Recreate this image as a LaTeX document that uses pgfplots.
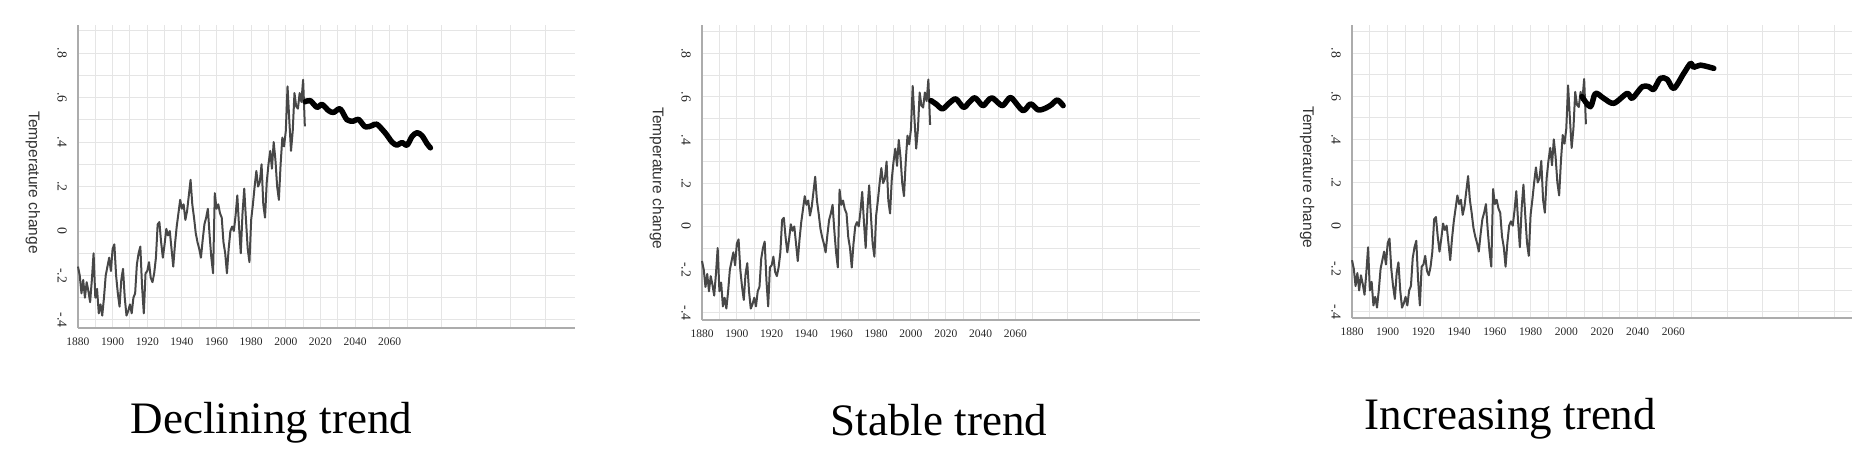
\documentclass[border=0pt]{standalone}
\usepackage{pgfplots}
\pgfplotsset{compat=1.18}
\usepackage{pgfplotstable}
\usepackage{fontspec}
\setmainfont{Liberation Serif}
\newfontfamily\labelsans{Liberation Sans}

% observed record, same in all three panels
\pgfplotstableread{
year temp
1880 -0.16
1881 -0.20
1882 -0.28
1883 -0.22
1884 -0.30
1885 -0.23
1886 -0.27
1887 -0.32
1888 -0.22
1889 -0.10
1890 -0.30
1891 -0.26
1892 -0.37
1893 -0.33
1894 -0.38
1895 -0.30
1896 -0.20
1897 -0.16
1898 -0.12
1899 -0.18
1900 -0.08
1901 -0.06
1902 -0.20
1903 -0.28
1904 -0.34
1905 -0.22
1906 -0.17
1907 -0.30
1908 -0.38
1909 -0.36
1910 -0.33
1911 -0.37
1912 -0.30
1913 -0.28
1914 -0.15
1915 -0.10
1916 -0.07
1917 -0.25
1918 -0.37
1919 -0.19
1920 -0.18
1921 -0.14
1922 -0.21
1923 -0.23
1924 -0.19
1925 -0.12
1926 0.03
1927 0.04
1928 -0.05
1929 -0.12
1930 -0.06
1931 0.01
1932 -0.02
1933 0.00
1934 -0.08
1935 -0.16
1936 -0.06
1937 0.02
1938 0.08
1939 0.14
1940 0.10
1941 0.12
1942 0.05
1943 0.09
1944 0.16
1945 0.23
1946 0.12
1947 0.06
1948 -0.01
1949 -0.05
1950 -0.08
1951 -0.12
1952 -0.04
1953 0.03
1954 0.06
1955 0.10
1956 -0.02
1957 -0.12
1958 -0.19
1959 0.17
1960 0.10
1961 0.12
1962 0.08
1963 0.06
1964 -0.05
1965 -0.10
1966 -0.19
1967 -0.08
1968 0.00
1969 0.02
1970 0.00
1971 0.07
1972 0.16
1973 0.02
1974 -0.10
1975 0.08
1976 0.19
1977 0.05
1978 -0.08
1979 -0.14
1980 0.05
1981 0.12
1982 0.20
1983 0.27
1984 0.20
1985 0.22
1986 0.30
1987 0.12
1988 0.06
1989 0.22
1990 0.30
1991 0.36
1992 0.28
1993 0.40
1994 0.32
1995 0.20
1996 0.14
1997 0.30
1998 0.42
1999 0.38
2000 0.45
2001 0.65
2002 0.50
2003 0.36
2004 0.45
2005 0.62
2006 0.56
2007 0.55
2008 0.62
2009 0.58
2010 0.68
2011 0.47
}\histdata

\pgfplotstableread{
year temp
2011.2 0.581
2014.1 0.586
2018.0 0.556
2020.9 0.569
2024.7 0.541
2027.6 0.533
2031.4 0.549
2035.3 0.500
2039.1 0.494
2042.0 0.502
2045.9 0.468
2049.8 0.474
2052.6 0.480
2057.5 0.440
2061.3 0.400
2064.2 0.386
2067.1 0.398
2070.0 0.386
2072.9 0.425
2075.8 0.442
2078.7 0.428
2081.6 0.392
2083.5 0.374
}\declining

\pgfplotstableread{
year temp
2011.6 0.582
2014.5 0.566
2018.1 0.544
2021.9 0.570
2025.8 0.590
2030.2 0.551
2033.5 0.575
2036.8 0.595
2041.2 0.559
2044.0 0.580
2046.7 0.595
2052.2 0.559
2055.0 0.580
2057.7 0.595
2064.3 0.536
2068.7 0.567
2073.1 0.539
2077.5 0.548
2080.8 0.564
2084.1 0.585
2087.4 0.559
}\stable

\pgfplotstableread{
year temp
2008.8 0.598
2013.5 0.551
2016.3 0.613
2021.0 0.590
2026.6 0.567
2034.1 0.613
2036.9 0.590
2042.5 0.644
2046.2 0.644
2049.0 0.632
2052.7 0.683
2056.5 0.678
2060.2 0.636
2065.8 0.706
2069.6 0.752
2071.4 0.734
2075.2 0.744
2082.6 0.729
}\increasing

\pgfplotsset{
  trendpanel/.style={
    scale only axis,
    anchor=south west,
    xmin=1880,
    axis x line*=bottom, axis y line*=left,
    axis line style={gray!65, line width=0.9pt},
    major tick length=0pt, minor tick length=0pt,
    xtick={1880,1900,...,2060},
    xticklabels={1880,1900,1920,1940,1960,1980,2000,2020,2040,2060},
    minor xtick={1890,1910,...,2150},
    ytick={-0.4,-0.2,0,0.2,0.4,0.6,0.8},
    yticklabels={-.4,-.2,0,.2,.4,.6,.8},
    minor ytick={-0.3,-0.1,0.1,0.3,0.5,0.7,0.9},
    grid=both,
    grid style={gray!20, line width=0.4pt},
    xticklabel style={font=\fontsize{4.6}{5}\selectfont, text=black!85, inner sep=0.5pt},
    xticklabel shift=3.4pt,
    yticklabel style={font=\fontsize{5.5}{6}\selectfont, text=black!85, rotate=-90, anchor=north, inner sep=0.5pt},
    yticklabel shift=3.8pt,
    every axis y label/.style={at={(axis description cs:0,0.48)}, xshift=-18pt, rotate=-90,
      anchor=center, font=\labelsans\fontsize{6.2}{7}\selectfont, text=black!80},
    ylabel={Temperature change},
    clip=false,
  },
  histline/.style={black!72, line width=0.8pt, line join=round},
  projline/.style={black, line width=2.2pt, smooth, line join=round, line cap=round},
}

\begin{document}
\begin{tikzpicture}
\path[use as bounding box] (0,0) rectangle (747.2pt,185.6pt);

\begin{axis}[trendpanel, at={(31.2pt,54.4pt)}, width=198.8pt, height=121.2pt,
  xmax=2167, ymin=-0.436, ymax=0.926]
\addplot[histline] table[x=year, y=temp] {\histdata};
\addplot[projline] table[x=year, y=temp] {\declining};
\end{axis}

\begin{axis}[trendpanel, at={(280.8pt,57.6pt)}, width=199.2pt, height=118pt,
  xmax=2166, ymin=-0.433, ymax=0.932]
\addplot[histline] table[x=year, y=temp] {\histdata};
\addplot[projline] table[x=year, y=temp] {\stable};
\end{axis}

\begin{axis}[trendpanel, at={(540.8pt,58.4pt)}, width=200pt, height=117.2pt,
  xmax=2160, ymin=-0.428, ymax=0.93]
\addplot[histline] table[x=year, y=temp] {\histdata};
\addplot[projline] table[x=year, y=temp] {\increasing};
\end{axis}

\node[anchor=base west, font=\fontsize{18}{20}\selectfont] at (48.8pt,12.4pt) {Declining trend};
\node[anchor=base west, font=\fontsize{18}{20}\selectfont] at (328.8pt,11.6pt) {Stable trend};
\node[anchor=base west, font=\fontsize{18}{20}\selectfont] at (542.4pt,14pt) {Increasing trend};
\end{tikzpicture}
\end{document}
